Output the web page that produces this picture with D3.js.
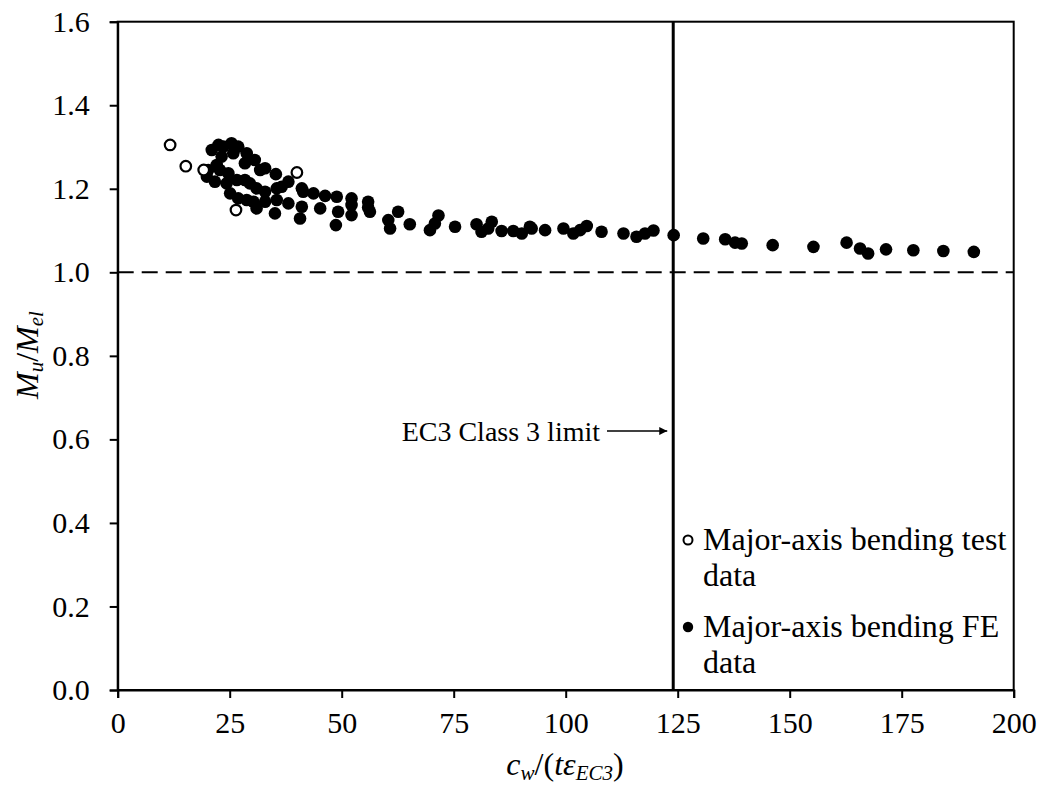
<!DOCTYPE html>
<html>
<head>
<meta charset="utf-8">
<script src="https://cdn.jsdelivr.net/npm/d3@7"></script>
<style>
  html, body { margin: 0; padding: 0; background: #fff; }
  svg { display: block; font-family: "Liberation Serif", "Times New Roman", serif; }
</style>
</head>
<body>
<svg id="chart" width="1046" height="792"></svg>
<script>
// ---- Data ----
const testX = [11.7, 15.2, 19.2, 26.4, 40.0];
const testY = [1.305, 1.254, 1.245, 1.149, 1.239];

const feX = [21.0, 22.5, 23.6, 25.4, 26.9, 25.8, 28.8, 28.4, 30.6, 31.8, 32.9, 35.3,
  23.2, 22.1, 20.2, 19.9, 21.7, 24.3, 22.8, 24.7, 26.6, 28.4, 29.5, 31.0, 32.9, 35.5,
  36.6, 38.1, 25.1, 26.9, 28.8, 30.3, 31.0, 32.9, 35.5, 35.1, 38.1, 41.1, 41.4, 43.7,
  46.3, 48.9, 52.2, 55.9, 41.1, 40.7, 45.2, 49.2, 52.2, 56.3, 48.7, 60.4, 60.8, 62.6,
  55.9, 52.2, 65.2, 71.6, 70.8, 69.7, 75.3, 80.1, 81.2, 83.5, 82.7, 85.7, 88.3, 90.2,
  92.0, 92.4, 95.4, 99.5, 101.7, 103.2, 104.7, 108.0, 112.9, 115.8, 117.7, 119.6, 124.1,
  130.7, 135.6, 137.8, 139.3, 146.2, 155.3, 162.7, 165.7, 167.5, 171.5, 177.6, 184.3, 191.1];
const feY = [1.293, 1.305, 1.301, 1.309, 1.301, 1.285, 1.285, 1.261, 1.269, 1.245, 1.249, 1.235,
  1.277, 1.257, 1.245, 1.229, 1.217, 1.213, 1.245, 1.237, 1.221, 1.221, 1.213, 1.201, 1.193, 1.201,
  1.205, 1.217, 1.189, 1.177, 1.173, 1.169, 1.153, 1.169, 1.173, 1.141, 1.165, 1.201, 1.193, 1.189,
  1.183, 1.181, 1.177, 1.169, 1.157, 1.129, 1.153, 1.145, 1.137, 1.145, 1.113, 1.125, 1.105, 1.145,
  1.155, 1.161, 1.115, 1.136, 1.117, 1.101, 1.109, 1.115, 1.097, 1.121, 1.105, 1.099, 1.099, 1.093,
  1.109, 1.105, 1.101, 1.105, 1.093, 1.101, 1.111, 1.097, 1.093, 1.085, 1.093, 1.100, 1.089,
  1.081, 1.079, 1.071, 1.069, 1.065, 1.061, 1.071, 1.057, 1.045, 1.055, 1.053, 1.051, 1.049];

const xTicks = [0, 25, 50, 75, 100, 125, 150, 175, 200];
const yTicks = [0.0, 0.2, 0.4, 0.6, 0.8, 1.0, 1.2, 1.4, 1.6];
const classLimit = 124;
const elasticRef = 1.0;
const legendLabels = [["Major-axis bending test", "data"], ["Major-axis bending FE", "data"]];

// ---- Layout ----
const svg = d3.select("#chart");
const m = { left: 117.7, right: 32.3, top: 21.7, bottom: 102 };
const W = 1046, H = 792;
const x = d3.scaleLinear().domain([0, 200]).range([m.left, W - m.right]);
const y = d3.scaleLinear().domain([0, 1.6]).range([H - m.bottom, m.top]);

// frame (top and right)
svg.append("rect")
  .attr("x", x(0)).attr("y", y(1.6))
  .attr("width", x(200) - x(0)).attr("height", y(0) - y(1.6))
  .attr("fill", "none").attr("stroke", "#000").attr("stroke-width", 2);

// axes
const xAxis = svg.append("g")
  .attr("transform", `translate(0,${y(0)})`)
  .call(d3.axisBottom(x).tickValues(xTicks).tickSize(8).tickPadding(14).tickFormat(d3.format("d")));
const yAxis = svg.append("g")
  .attr("transform", `translate(${x(0)},0)`)
  .call(d3.axisLeft(y).tickValues(yTicks).tickSize(8).tickPadding(20).tickFormat(d3.format(".1f")));
[xAxis, yAxis].forEach(g => {
  g.selectAll("path.domain").attr("stroke", "#000").attr("stroke-width", 2);
  g.selectAll(".tick line").attr("stroke", "#000").attr("stroke-width", 2);
  g.selectAll(".tick text").attr("fill", "#000").style("font-size", "30px")
    .style("font-family", "'Liberation Serif', 'Times New Roman', serif");
});

// dashed reference line at 1.0
svg.append("line")
  .attr("x1", x(0)).attr("x2", x(200))
  .attr("y1", y(elasticRef)).attr("y2", y(elasticRef))
  .attr("stroke", "#000").attr("stroke-width", 2).attr("stroke-dasharray", "16,8");

// vertical class 3 limit
svg.append("line")
  .attr("x1", x(classLimit)).attr("x2", x(classLimit))
  .attr("y1", y(0)).attr("y2", y(1.6))
  .attr("stroke", "#000").attr("stroke-width", 3);

// FE points
svg.append("g").selectAll("circle")
  .data(feX.map((d, i) => [d, feY[i]]))
  .join("circle")
  .attr("cx", d => x(d[0])).attr("cy", d => y(d[1])).attr("r", 6.3)
  .attr("fill", "#000");

// test points
svg.append("g").selectAll("circle")
  .data(testX.map((d, i) => [d, testY[i]]))
  .join("circle")
  .attr("cx", d => x(d[0])).attr("cy", d => y(d[1])).attr("r", 5.3)
  .attr("fill", "#fff").attr("stroke", "#000").attr("stroke-width", 2.2);

// annotation
const annY = y(0.62);
svg.append("defs").append("marker")
  .attr("id", "arrow").attr("viewBox", "0 0 10 10").attr("refX", 10).attr("refY", 5)
  .attr("markerWidth", 12).attr("markerHeight", 8).attr("markerUnits", "userSpaceOnUse")
  .attr("orient", "auto")
  .append("path").attr("d", "M0,0 L10,5 L0,10 Z").attr("fill", "#000");
svg.append("text")
  .attr("x", 600).attr("y", annY + 10).attr("text-anchor", "end")
  .style("font-size", "28px").text("EC3 Class 3 limit");
svg.append("line")
  .attr("x1", 607).attr("x2", x(classLimit) - 6)
  .attr("y1", annY).attr("y2", annY)
  .attr("stroke", "#000").attr("stroke-width", 1.5).attr("marker-end", "url(#arrow)");

// legend
const lg = svg.append("g");
const lx = 688, ly0 = 540, lineH = 36, blockH = 87;
lg.append("circle").attr("cx", lx).attr("cy", ly0).attr("r", 4.5)
  .attr("fill", "#fff").attr("stroke", "#000").attr("stroke-width", 2);
lg.append("circle").attr("cx", lx).attr("cy", ly0 + blockH).attr("r", 5.2).attr("fill", "#000");
legendLabels.forEach((lines, i) => {
  lines.forEach((t, j) => {
    lg.append("text").attr("x", 703).attr("y", ly0 + i * blockH + j * lineH + 10)
      .style("font-size", "32px").text(t);
  });
});

// axis titles
const xt = svg.append("text").attr("x", 565).attr("y", 775).attr("text-anchor", "middle")
  .style("font-size", "32px");
xt.append("tspan").attr("font-style", "italic").text("c");
xt.append("tspan").attr("font-style", "italic").attr("baseline-shift", "-22%").style("font-size", "21px").text("w");
xt.append("tspan").text("/(");
xt.append("tspan").attr("font-style", "italic").text("tε");
xt.append("tspan").attr("font-style", "italic").attr("baseline-shift", "-22%").style("font-size", "21px").text("EC3");
xt.append("tspan").text(")");

const yt = svg.append("text").attr("transform", `translate(38,355) rotate(-90)`)
  .attr("text-anchor", "middle").style("font-size", "32px");
yt.append("tspan").attr("font-style", "italic").text("M");
yt.append("tspan").attr("font-style", "italic").attr("baseline-shift", "-25%").style("font-size", "21px").text("u");
yt.append("tspan").text("/");
yt.append("tspan").attr("font-style", "italic").text("M");
yt.append("tspan").attr("font-style", "italic").attr("baseline-shift", "-25%").style("font-size", "21px").text("el");
</script>
</body>
</html>
